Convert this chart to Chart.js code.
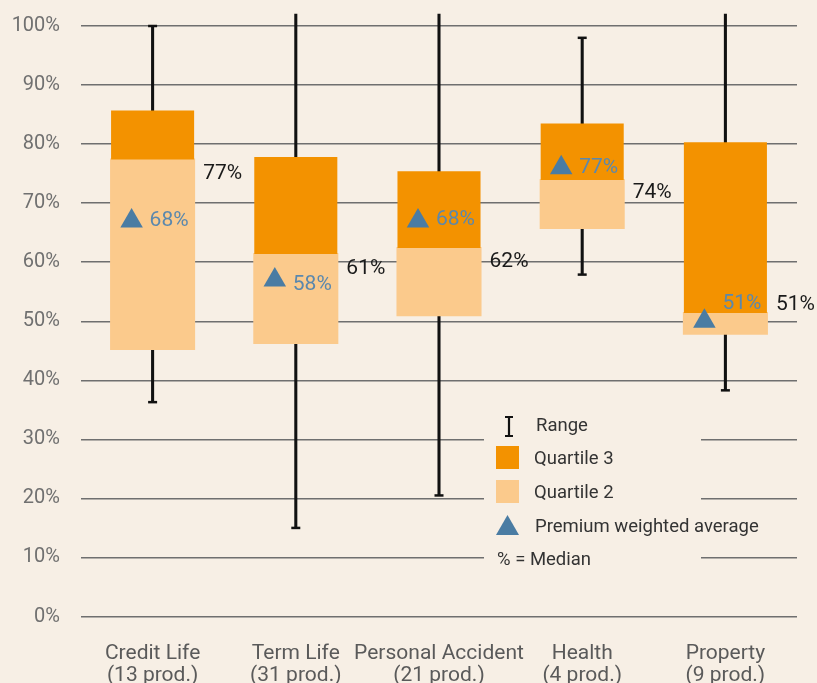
<!DOCTYPE html>
<html><head><meta charset="utf-8">
<script src="https://cdn.jsdelivr.net/npm/chart.js@4/dist/chart.umd.min.js"></script>
<style>html,body{margin:0;padding:0;background:#f7efe5;}canvas{display:block}</style>
</head><body>
<canvas id="c" width="817" height="683"></canvas>
<script>
// ---- data ----
const categories    = ['Credit Life', 'Term Life', 'Personal Accident', 'Health', 'Property'];
const productCounts = ['(13 prod.)', '(31 prod.)', '(21 prod.)', '(4 prod.)', '(9 prod.)'];
const rangeLow      = [36.3, 15.0, 20.5, 57.9, 38.3];
const rangeHigh     = [100, 102, 102, 98, 102];
const q2Low         = [45.3, 46.3, 51.0, 65.8, 47.9];
const medians       = [77.4, 61.4, 62.4, 73.9, 51.4];
const q3High        = [85.7, 77.8, 75.4, 83.5, 80.3];
const weightedAvg   = [68, 58, 68, 77, 51];
const yTicks        = [0, 10, 20, 30, 40, 50, 60, 70, 80, 90, 100];

// ---- styles ----
const BG = '#f7efe5';
const C_Q3 = '#f39200';
const C_Q2 = '#fbca8c';
const C_TRI = '#4a7ca3';
const C_AVG_TXT = '#5b88ad';
const MARKER_DX = -21, MARKER_DY = 6;
const avgLabelDy = [0, 5, -1, 0, -18];
const medLabelDy = [14, 15, 14, 13, -8];

Chart.defaults.font.family = 'Roboto, "DejaVu Sans", sans-serif';

const bgPlugin = {
  id: 'bg',
  beforeDraw(chart) {
    const ctx = chart.ctx;
    ctx.save(); ctx.fillStyle = BG; ctx.fillRect(0, 0, chart.width, chart.height); ctx.restore();
  }
};

const legendPlugin = {
  id: 'customLegend',
  beforeDatasetsDraw(chart) {
    const ctx = chart.ctx;
    ctx.save();
    ctx.fillStyle = BG;
    ctx.fillRect(484, 404, 217, 172);
    // range icon
    ctx.strokeStyle = '#111'; ctx.lineWidth = 2.2;
    ctx.beginPath();
    ctx.moveTo(509, 417); ctx.lineTo(509, 436);
    ctx.moveTo(505, 417); ctx.lineTo(513, 417);
    ctx.moveTo(505, 436); ctx.lineTo(513, 436);
    ctx.stroke();
    ctx.fillStyle = C_Q3; ctx.fillRect(496, 446, 23, 23);
    ctx.fillStyle = C_Q2; ctx.fillRect(496, 480, 23, 23);
    ctx.fillStyle = C_TRI;
    ctx.beginPath(); ctx.moveTo(507.5, 515); ctx.lineTo(519, 535); ctx.lineTo(496, 535); ctx.closePath(); ctx.fill();
    ctx.fillStyle = '#333';
    ctx.font = '18.5px Roboto';
    ctx.textBaseline = 'middle'; ctx.textAlign = 'left';
    ctx.fillText('Range', 536, 426);
    ctx.fillText('Quartile 3', 534, 459);
    ctx.fillText('Quartile 2', 534, 493);
    ctx.fillText('Premium weighted average', 535, 527);
    ctx.fillText('% = Median', 497, 560);
    ctx.restore();
  }
};

const markerShift = {
  id: 'markerShift',
  beforeDatasetDraw(chart, args) {
    if (chart.data.datasets[args.index].isMarker) {
      chart.ctx.save(); chart.ctx.translate(MARKER_DX, MARKER_DY);
    }
  },
  afterDatasetDraw(chart, args) {
    if (chart.data.datasets[args.index].isMarker) chart.ctx.restore();
  }
};

const labelPlugin = {
  id: 'valueLabels',
  afterDatasetsDraw(chart) {
    const ctx = chart.ctx, x = chart.scales.x, y = chart.scales.y;
    const q3Meta = chart.getDatasetMeta(1);
    ctx.save();
    ctx.textBaseline = 'middle';
    ctx.font = '21px Roboto';
    categories.forEach((c, i) => {
      const cx = x.getPixelForValue(i);
      const bar = q3Meta.data[i];
      const right = bar.x + bar.width / 2;
      ctx.fillStyle = '#1a1a1a'; ctx.textAlign = 'left';
      ctx.fillText(Math.round(medians[i]) + '%', right + 9, y.getPixelForValue(medians[i]) + medLabelDy[i]);
      ctx.fillStyle = C_AVG_TXT;
      ctx.fillText(weightedAvg[i] + '%', cx + MARKER_DX + 18, y.getPixelForValue(weightedAvg[i]) + MARKER_DY + avgLabelDy[i]);
    });
    ctx.restore();
  }
};

new Chart(document.getElementById('c'), {
  data: {
    labels: categories.map((c, i) => [c, productCounts[i]]),
    datasets: [
      { type: 'line', isMarker: true, label: 'Premium weighted average', data: weightedAvg,
        showLine: false, pointStyle: 'triangle', pointRadius: 13, pointHoverRadius: 13,
        pointBackgroundColor: C_TRI, pointBorderWidth: 0, pointBorderColor: C_TRI, order: 0, clip: false },
      { type: 'bar', label: 'Quartile 3', data: medians.map((m, i) => [m, q3High[i]]),
        backgroundColor: C_Q3, borderWidth: 0, order: 1, barPercentage: 0.58, categoryPercentage: 1 },
      { type: 'bar', label: 'Quartile 2', data: q2Low.map((l, i) => [l, medians[i]]),
        backgroundColor: C_Q2, borderWidth: 0, order: 2, barPercentage: 0.58, categoryPercentage: 1, inflateAmount: 1 },
      { type: 'line', label: 'Range low cap', data: rangeLow, showLine: false, pointStyle: 'line',
        pointRadius: 4.5, pointBorderWidth: 2.5, pointBorderColor: '#111', order: 3, clip: false },
      { type: 'line', label: 'Range high cap', data: rangeHigh.map(v => v <= 100 ? v : null), showLine: false, pointStyle: 'line',
        pointRadius: 4.5, pointBorderWidth: 2.5, pointBorderColor: '#111', order: 4, clip: false },
      { type: 'bar', label: 'Range', data: rangeLow.map((l, i) => [l, rangeHigh[i]]),
        backgroundColor: '#111', borderWidth: 0, barThickness: 2.4, order: 5, clip: false }
    ]
  },
  options: {
    responsive: false,
    animation: false,
    events: [],
    layout: { padding: { top: 26, right: 20, left: 0, bottom: 0 } },
    plugins: { legend: { display: false }, tooltip: { enabled: false } },
    scales: {
      x: {
        stacked: true,
        afterFit(scale) { scale.height = 66.5; },
        grid: { display: false, drawTicks: false },
        border: { display: false },
        ticks: { color: '#5a5a5a', font: { size: 21, lineHeight: 1.05 }, padding: 26.5, maxRotation: 0, autoSkip: false }
      },
      y: {
        stacked: false,
        min: 0, max: 100,
        afterFit(scale) { scale.width = 81; },
        afterBuildTicks(scale) { scale.ticks = yTicks.map(v => ({ value: v })); },
        grid: { color: '#6f6f6f', lineWidth: 1.5, drawTicks: true, tickLength: 19, tickColor: 'rgba(0,0,0,0)' },
        border: { display: false },
        ticks: { color: '#707070', font: { size: 20 }, padding: 2, callback: v => v + '%' }
      }
    }
  },
  plugins: [bgPlugin, legendPlugin, markerShift, labelPlugin]
});
</script>
</body></html>
